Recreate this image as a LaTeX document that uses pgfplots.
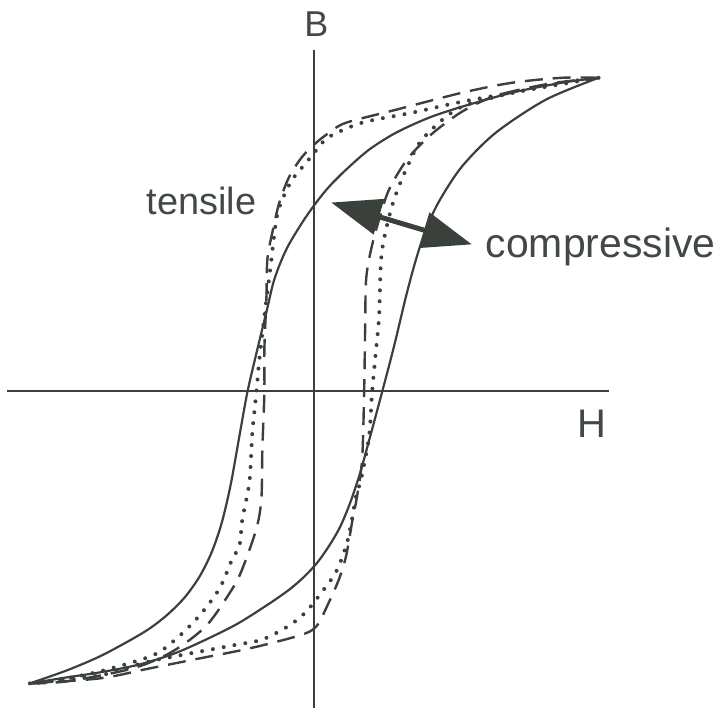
\documentclass[border=0pt]{standalone}
\usepackage{pgfplots}
\pgfplotsset{compat=1.18}
\usepackage{fontspec}
\setmainfont{Liberation Sans}
\usetikzlibrary{arrows.meta}
\definecolor{ink}{RGB}{58,64,58}
\definecolor{txt}{RGB}{66,72,66}

% hysteresis loops: descending (upper) and ascending (lower) branches
\pgfplotstableread{
H B
2.85 3.14
2.48 3.09
1.98 2.99
1.48 2.85
1.15 2.74
0.82 2.59
0.55 2.42
0.32 2.22
0.15 2.05
0.02 1.89
-0.12 1.69
-0.28 1.42
-0.40 1.12
-0.48 0.79
-0.57 0.42
-0.67 -0.01
-0.75 -0.45
-0.84 -0.95
-0.93 -1.33
-1.03 -1.62
-1.15 -1.86
-1.30 -2.07
-1.47 -2.24
-1.65 -2.38
-1.85 -2.50
-2.15 -2.66
-2.48 -2.80
-2.85 -2.93
}\solidup
\pgfplotstableread{
H B
-2.85 -2.93
-2.48 -2.87
-2.15 -2.82
-1.75 -2.74
-1.35 -2.61
-0.82 -2.36
-0.48 -2.15
-0.25 -1.99
-0.10 -1.86
0.03 -1.72
0.15 -1.55
0.26 -1.36
0.36 -1.12
0.46 -0.82
0.57 -0.42
0.68 -0.01
0.80 0.45
0.92 0.95
1.02 1.32
1.12 1.62
1.25 1.90
1.48 2.25
1.82 2.59
2.32 2.92
2.85 3.14
}\solidlo
\pgfplotstableread{
H B
2.85 3.14
2.48 3.14
1.98 3.09
1.48 2.99
0.82 2.82
0.32 2.69
0.15 2.59
0.02 2.49
-0.12 2.35
-0.25 2.15
-0.35 1.89
-0.42 1.59
-0.47 1.32
-0.48 0.92
-0.50 0.42
-0.50 -0.01
-0.52 -0.58
-0.53 -1.08
-0.58 -1.38
-0.72 -1.78
-0.82 -1.98
-1.08 -2.35
-1.42 -2.61
-1.82 -2.78
-2.48 -2.91
-2.85 -2.93
}\dashup
\pgfplotstableread{
H B
-2.85 -2.93
-2.15 -2.88
-1.65 -2.78
-1.15 -2.68
-0.65 -2.58
-0.15 -2.45
0.02 -2.36
0.15 -2.11
0.25 -1.88
0.32 -1.65
0.38 -1.31
0.43 -1.05
0.48 -0.68
0.50 -0.01
0.51 0.62
0.52 1.12
0.57 1.42
0.65 1.72
0.75 2.02
0.93 2.32
1.17 2.57
1.48 2.80
1.82 2.96
2.35 3.08
2.85 3.14
}\dashlo
\pgfplotstableread{
H B
2.85 3.14
2.15 3.02
1.48 2.90
0.98 2.79
0.48 2.69
0.15 2.55
0.05 2.45
-0.08 2.29
-0.22 2.12
-0.32 1.92
-0.38 1.72
-0.45 1.15
-0.50 0.75
-0.55 0.32
-0.58 -0.01
-0.62 -0.41
-0.65 -0.91
-0.72 -1.28
-0.75 -1.55
-0.82 -1.68
-0.95 -1.98
-1.15 -2.25
-1.38 -2.48
-1.62 -2.65
-2.15 -2.81
-2.65 -2.91
-2.85 -2.93
}\dotup
\pgfplotstableread{
H B
-2.85 -2.93
-2.15 -2.85
-1.65 -2.71
-0.82 -2.55
-0.52 -2.49
-0.25 -2.35
-0.08 -2.21
0.08 -2.01
0.22 -1.81
0.32 -1.55
0.37 -1.33
0.42 -1.05
0.47 -0.88
0.55 -0.45
0.58 -0.01
0.62 0.42
0.65 0.75
0.67 1.32
0.72 1.62
0.80 1.92
0.92 2.22
1.08 2.52
1.42 2.82
1.82 2.95
2.48 3.09
2.85 3.14
}\dotlo

\begin{document}
\begin{tikzpicture}
\begin{axis}[
  x=50pt, y=50pt,
  xmin=-3.15, xmax=4.07, ymin=-3.18, ymax=3.92,
  hide axis, clip=false,
]
\path (axis cs:-3.15,-3.18) rectangle (axis cs:4.07,3.92);
% coordinate axes
\addplot[ink, line width=1pt] coordinates {(-3.08,0) (2.95,0)};
\addplot[ink, line width=1pt] coordinates {(0,3.42) (0,-3.18)};
% loops
\addplot[ink, line width=1.1pt, smooth, tension=0.5] table {\solidup};
\addplot[ink, line width=1.1pt, smooth, tension=0.5] table {\solidlo};
\addplot[ink, line width=1.2pt, smooth, tension=0.5, dash pattern=on 9pt off 5pt] table {\dashup};
\addplot[ink, line width=1.2pt, smooth, tension=0.5, dash pattern=on 9pt off 5pt] table {\dashlo};
\addplot[ink, line width=2pt, smooth, tension=0.5, line cap=round, dash pattern=on 0pt off 5.5pt] table {\dotup};
\addplot[ink, line width=2pt, smooth, tension=0.5, line cap=round, dash pattern=on 0pt off 5.5pt] table {\dotlo};
% stress direction
\draw[ink, line width=2.5pt, {Triangle[length=25pt,width=18pt]}-{Triangle[length=25pt,width=18pt]}]
  (axis cs:0.17,1.89) -- (axis cs:1.58,1.47);
\node[txt, anchor=base, font=\fontsize{19}{19}\selectfont] at (axis cs:-1.13,1.77) {tensile};
\node[txt, anchor=base, font=\fontsize{20.5}{20.5}\selectfont] at (axis cs:2.87,1.34) {compressive};
\node[txt, anchor=base, font=\fontsize{18}{18}\selectfont] at (axis cs:0.02,3.55) {B};
\node[txt, anchor=base, font=\fontsize{20}{20}\selectfont] at (axis cs:2.78,-0.47) {H};
\end{axis}
\end{tikzpicture}
\end{document}
